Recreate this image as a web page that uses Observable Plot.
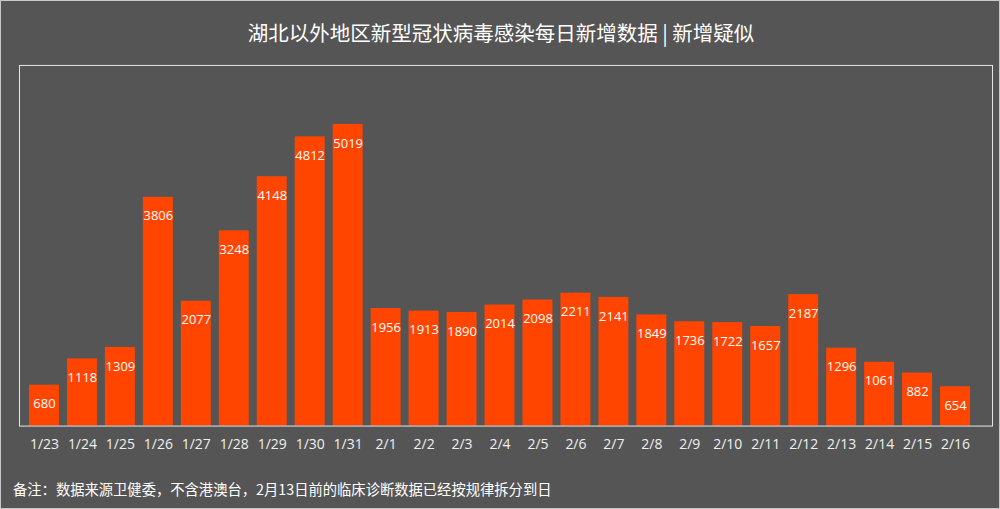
<!DOCTYPE html>
<html><head><meta charset="utf-8">
<script src="https://cdn.jsdelivr.net/npm/d3@7"></script>
<script src="https://cdn.jsdelivr.net/npm/@observablehq/plot@0.6"></script>
<style>
html,body{margin:0;padding:0;background:#555555;}
#wrap{position:relative;width:1000px;height:509px;box-sizing:border-box;border:1px solid #c8c8c8;background:#555555;overflow:hidden;font-family:"Noto Sans CJK SC","Noto Sans",sans-serif;}
#title{position:absolute;left:0;top:17px;width:1000px;text-align:center;color:#ffffff;font-size:20.5px;line-height:28px;}
#note{position:absolute;left:12px;top:477px;color:#ffffff;font-size:14.3px;line-height:22px;}
#chart{position:absolute;left:-1px;top:-1px;}
</style></head>
<body>
<div id="wrap">
<div id="chart"></div>
<div id="title">湖北以外地区新型冠状病毒感染每日新增数据 | 新增疑似</div>
<div id="note">备注：数据来源卫健委，不含港澳台，2月13日前的临床诊断数据已经按规律拆分到日</div>
</div>
<script>
const dates = ["1/23","1/24","1/25","1/26","1/27","1/28","1/29","1/30","1/31","2/1","2/2","2/3","2/4","2/5","2/6","2/7","2/8","2/9","2/10","2/11","2/12","2/13","2/14","2/15","2/16"];
const suspected = [680,1118,1309,3806,2077,3248,4148,4812,5019,1956,1913,1890,2014,2098,2211,2141,1849,1736,1722,1657,2187,1296,1061,882,654];
const data = dates.map((d, i) => ({date: d, value: suspected[i]}));

const chart = Plot.plot({
  width: 1000,
  height: 509,
  marginTop: 65,
  marginBottom: 83,
  marginLeft: 19,
  marginRight: 7,
  style: {background: "transparent", color: "#ffffff", fontFamily: "'Open Sans','Noto Sans',sans-serif"},
  x: {type: "band", domain: dates, range: [19.8, 980.3], paddingInner: 0.22, paddingOuter: 0.11},
  y: {domain: [0, 6000], axis: null},
  marks: [
    Plot.barY(data, {x: "date", y: "value", fill: "#ff4500"}),
    Plot.text(data, {x: "date", y: "value", text: d => String(d.value), dy: 19, fill: "#ffffff", fontSize: 13}),
    Plot.frame({stroke: "#e6e6e6", strokeWidth: 1}),
    Plot.axisX({tickSize: 0, tickPadding: 13, fontSize: 14, fill: "#f0f0f0", label: null})
  ]
});
document.getElementById("chart").appendChild(chart);
</script>
</body></html>
